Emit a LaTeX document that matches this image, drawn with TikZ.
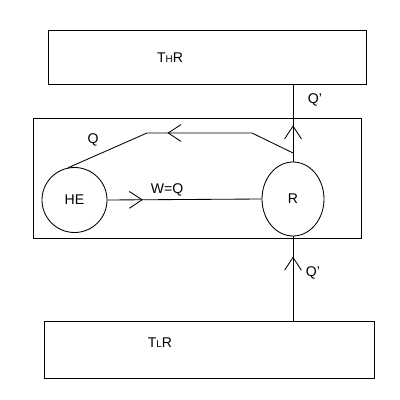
\documentclass[tikz,border=0pt]{standalone}
\usepackage{fontspec}
\setmainfont{Liberation Sans}
\usetikzlibrary{arrows.meta,decorations.markings,shapes.geometric}

\tikzset{
  box/.style={draw, rectangle, inner sep=0pt},
  engine/.style={draw, circle, inner sep=0pt},
  flow/.style={line width=0.6pt},
  midtip/.style={postaction={decorate}, decoration={markings,
      mark=at position #1 with {\arrow[line width=0.6pt]{Straight Barb[length=3.2mm,width=4.2mm]}}}},
  txt/.style={font=\fontsize{10}{12}\selectfont, inner sep=0pt}
}
\newcommand{\sub}[1]{{\fontsize{7}{8}\selectfont #1}}

\begin{document}
\begin{tikzpicture}[x=0.025cm, y=-0.025cm, line width=0.6pt]
    \useasboundingbox (0,0) rectangle (400,400);

    % Reservoirs
    \node[box, minimum width=318*0.025cm, minimum height=54*0.025cm] (thr) at (207,57) {};
    \node[txt] (thrlabel) at (170,58) {T\sub{H}R};
    \node[box, minimum width=330*0.025cm, minimum height=57*0.025cm] (tlr) at (209,349.5) {};
    \node[txt] (tlrlabel) at (160,343) {T\sub{L}R};

    % System
    \node[box, minimum width=328*0.025cm, minimum height=120*0.025cm] (sys) at (197,178) {};
    \node[engine, minimum size=65*0.025cm] (he) at (74.5,200) {};
    \node[txt] (helabel) at (he) {HE};
    \node[draw, ellipse, inner sep=0pt, minimum width=62*0.025cm, minimum height=74*0.025cm] (r) at (293,199) {};
    \node[txt] (rlabel) at (r) {R};

    % Heat and work flows
    \coordinate (j) at (293,153);
    \coordinate (k1) at (252,133);
    \coordinate (k2) at (147,133);
    \draw[flow, midtip=0.47] (r.north) -- (r.north |- thr.south);
    \draw[flow, midtip=0.76] (tlr.north -| r.south) -- (r.south);
    \draw[flow, midtip=0.23] (he.east) -- (r.west);
    \draw[flow, midtip=0.55] (j) -- (k1) -- (k2) -- (he.101);

    % Labels
    \node[txt] (qtop) at (315,100) {Q'};
    \node[txt] (qbot) at (313,273) {Q'};
    \node[txt] (q) at (93,140) {Q};
    \node[txt] (w) at (167,190) {W=Q};
\end{tikzpicture}
\end{document}
